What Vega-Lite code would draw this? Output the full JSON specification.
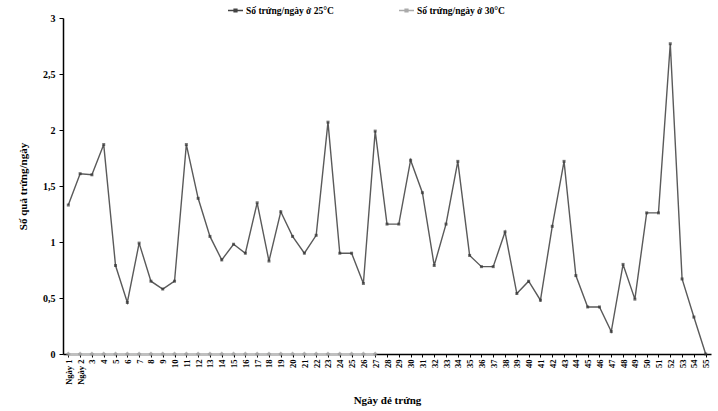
{
  "$schema": "https://vega.github.io/schema/vega-lite/v6.json",
  "width": 648,
  "height": 336,
  "autosize": "none",
  "padding": {"left": 63, "top": 18, "right": 7, "bottom": 57},
  "background": "white",
  "config": {
    "view": {"stroke": null},
    "font": "Liberation Serif"
  },
  "datasets": {
    "d25": [
      {"day":1,"v":1.33},{"day":2,"v":1.61},{"day":3,"v":1.6},{"day":4,"v":1.87},{"day":5,"v":0.79},
      {"day":6,"v":0.46},{"day":7,"v":0.99},{"day":8,"v":0.65},{"day":9,"v":0.58},{"day":10,"v":0.65},
      {"day":11,"v":1.87},{"day":12,"v":1.39},{"day":13,"v":1.05},{"day":14,"v":0.84},{"day":15,"v":0.98},
      {"day":16,"v":0.9},{"day":17,"v":1.35},{"day":18,"v":0.83},{"day":19,"v":1.27},{"day":20,"v":1.05},
      {"day":21,"v":0.9},{"day":22,"v":1.06},{"day":23,"v":2.07},{"day":24,"v":0.9},{"day":25,"v":0.9},
      {"day":26,"v":0.63},{"day":27,"v":1.99},{"day":28,"v":1.16},{"day":29,"v":1.16},{"day":30,"v":1.73},
      {"day":31,"v":1.44},{"day":32,"v":0.79},{"day":33,"v":1.16},{"day":34,"v":1.72},{"day":35,"v":0.88},
      {"day":36,"v":0.78},{"day":37,"v":0.78},{"day":38,"v":1.09},{"day":39,"v":0.54},{"day":40,"v":0.65},
      {"day":41,"v":0.48},{"day":42,"v":1.14},{"day":43,"v":1.72},{"day":44,"v":0.7},{"day":45,"v":0.42},
      {"day":46,"v":0.42},{"day":47,"v":0.2},{"day":48,"v":0.8},{"day":49,"v":0.49},{"day":50,"v":1.26},
      {"day":51,"v":1.26},{"day":52,"v":2.77},{"day":53,"v":0.67},{"day":54,"v":0.33},{"day":55,"v":0}
    ],
    "d30": [
      {"day":1,"v":0},{"day":2,"v":0},{"day":3,"v":0},{"day":4,"v":0},{"day":5,"v":0},{"day":6,"v":0},
      {"day":7,"v":0},{"day":8,"v":0},{"day":9,"v":0},{"day":10,"v":0},{"day":11,"v":0},{"day":12,"v":0},
      {"day":13,"v":0},{"day":14,"v":0},{"day":15,"v":0},{"day":16,"v":0},{"day":17,"v":0},{"day":18,"v":0},
      {"day":19,"v":0},{"day":20,"v":0},{"day":21,"v":0},{"day":22,"v":0},{"day":23,"v":0},{"day":24,"v":0},
      {"day":25,"v":0},{"day":26,"v":0},{"day":27,"v":0}
    ]
  },
  "encoding": {
    "x": {
      "field": "day", "type": "ordinal",
      "scale": {"type": "point", "padding": 0.45, "domain": [1,2,3,4,5,6,7,8,9,10,11,12,13,14,15,16,17,18,19,20,21,22,23,24,25,26,27,28,29,30,31,32,33,34,35,36,37,38,39,40,41,42,43,44,45,46,47,48,49,50,51,52,53,54,55]},
      "axis": {
        "title": "Ngày đẻ trứng", "zindex": 0,
        "titleFont": "Liberation Serif", "titleFontSize": 11, "titleFontWeight": "bold", "titleColor": "black",
        "titlePadding": 10,
        "labelAngle": -90, "labelFont": "Liberation Serif", "labelFontSize": 8.5, "labelFontWeight": "bold", "labelColor": "black",
        "labelExpr": "datum.value <= 2 ? 'Ngày ' + datum.value : '' + datum.value",
        "labelPadding": 2, "labelOverlap": false,
        "tickSize": 3, "tickColor": "black", "domainColor": "black", "domainWidth": 1.5, "grid": false
      }
    },
    "y": {
      "field": "v", "type": "quantitative",
      "scale": {"domain": [0, 3], "nice": false},
      "axis": {
        "title": "Số quả trứng/ngày", "zindex": 0,
        "titleFont": "Liberation Serif", "titleFontSize": 11, "titleFontWeight": "bold", "titleColor": "black",
        "titlePadding": 14,
        "values": [0, 0.5, 1, 1.5, 2, 2.5, 3],
        "labelExpr": "replace('' + datum.value, '.', ',')",
        "labelFont": "Liberation Serif", "labelFontSize": 10, "labelFontWeight": "bold", "labelColor": "black",
        "labelPadding": 4, "tickSize": 4, "tickColor": "black", "domainColor": "black", "domainWidth": 1.5, "grid": false
      }
    }
  },
  "layer": [
    {
      "data": {"name": "d30"},
      "mark": {"type": "line", "color": "#c0c0c0", "strokeWidth": 2.2, "zindex": 2},
      "encoding": {}
    },
    {
      "data": {"name": "d30"},
      "mark": {"type": "point", "shape": "diamond", "filled": true, "color": "#999999", "size": 24, "zindex": 2},
      "encoding": {}
    },
    {
      "data": {"name": "d25"},
      "mark": {"type": "line", "color": "#5a5a5a", "strokeWidth": 1.4, "zindex": 2},
      "encoding": {}
    },
    {
      "data": {"name": "d25"},
      "mark": {"type": "point", "shape": "square", "filled": true, "color": "#333333", "size": 9, "zindex": 2},
      "encoding": {}
    },
    {
      "data": {"values": [{"s": "Số trứng/ngày ở 25°C"}, {"s": "Số trứng/ngày ở 30°C"}]},
      "mark": {"type": "point", "opacity": 0},
      "encoding": {
        "x": {"value": 0},
        "y": {"value": 0},
        "color": {
          "field": "s", "type": "nominal",
          "scale": {"domain": ["Số trứng/ngày ở 25°C", "Số trứng/ngày ở 30°C"], "range": ["#444444", "#aaaaaa"]},
          "legend": {
            "title": null, "orient": "none", "direction": "horizontal",
            "legendX": 164, "legendY": -16,
            "symbolType": "M-1,0H1M-0.18,-0.18H0.18V0.18H-0.18Z",
            "symbolSize": 225, "symbolStrokeWidth": 1.5, "symbolOpacity": 1,
            "labelFont": "Liberation Serif", "labelFontSize": 9.5, "labelFontWeight": "bold", "labelColor": "black",
            "columnPadding": 62, "labelOffset": 2
          }
        }
      }
    }
  ]
}
